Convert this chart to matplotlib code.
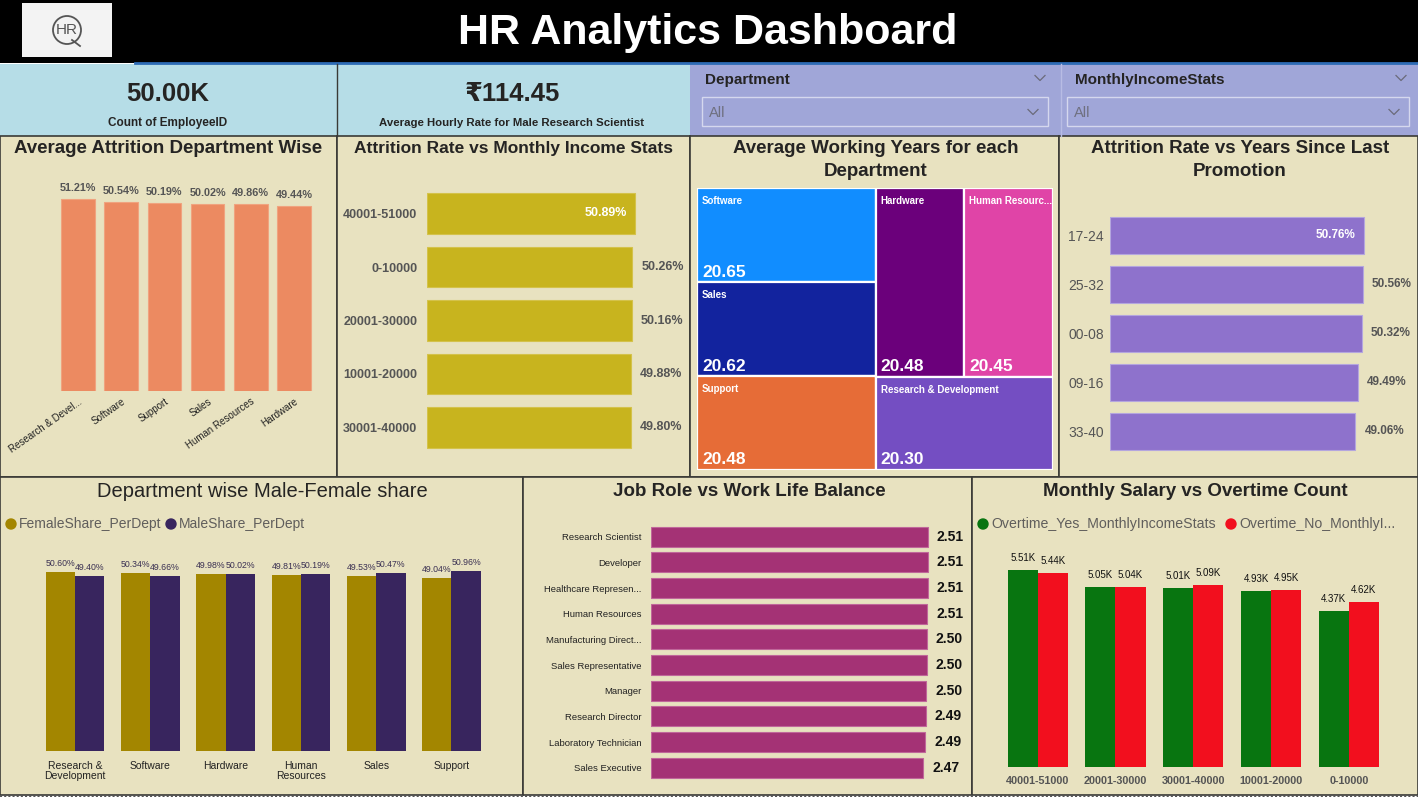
import matplotlib
matplotlib.use("Agg")
from matplotlib import pyplot as plt
from matplotlib.patches import Rectangle, Circle

# Arial-metric face; sizes are tuned to the widths of the Power BI text
FONT = ['Liberation Sans', 'DejaVu Sans']
plt.rcParams['font.family'] = FONT

# ---------------- data ----------------
kpi_count = "50.00K"
kpi_count_label = "Count of EmployeeID"
kpi_rate = "₹114.45"
kpi_rate_label = "Average Hourly Rate for Male Research Scientist"

dept_names = ["Research & Devel...", "Software", "Support", "Sales", "Human Resources", "Hardware"]
dept_attrition = [51.21, 50.54, 50.19, 50.02, 49.86, 49.44]

income_bins = ["40001-51000", "0-10000", "20001-30000", "10001-20000", "30001-40000"]
income_attrition = [50.89, 50.26, 50.16, 49.88, 49.80]

tm_names = ["Software", "Sales", "Support", "Hardware", "Human Resourc...", "Research & Development"]
tm_years = [20.65, 20.62, 20.48, 20.48, 20.45, 20.30]
tm_colors = ["#118dff", "#12239e", "#e66c37", "#6b007b", "#e044a7", "#744ec2"]

promo_bins = ["17-24", "25-32", "00-08", "09-16", "33-40"]
promo_attrition = [50.76, 50.56, 50.32, 49.49, 49.06]

share_depts = ["Research &\nDevelopment", "Software", "Hardware", "Human\nResources", "Sales", "Support"]
female_share = [50.60, 50.34, 49.98, 49.81, 49.53, 49.04]
male_share = [49.40, 49.66, 50.02, 50.19, 50.47, 50.96]
share_names = ["FemaleShare_PerDept", "MaleShare_PerDept"]

job_roles = ["Research Scientist", "Developer", "Healthcare Represen...", "Human Resources",
             "Manufacturing Direct...", "Sales Representative", "Manager", "Research Director",
             "Laboratory Technician", "Sales Executive"]
work_life = [2.513, 2.512, 2.510, 2.508, 2.504, 2.500, 2.498, 2.494, 2.490, 2.472]

salary_bins = ["40001-51000", "20001-30000", "30001-40000", "10001-20000", "0-10000"]
ot_yes = [5.51, 5.05, 5.01, 4.93, 4.37]
ot_no = [5.44, 5.04, 5.09, 4.95, 4.62]
ot_names = ["Overtime_Yes_MonthlyIncomeStats", "Overtime_No_MonthlyI..."]

# ---------------- styling ----------------
W, H = 1418, 797
PANEL = "#e8e2c0"
BORDER = "#3a3a36"
TITLE = "#252423"
GREY = "#555555"

fig = plt.figure(figsize=(W / 100, H / 100), dpi=100)

# background canvas in pixel coordinates
bg = fig.add_axes([0, 0, 1, 1])
bg.set_xlim(0, W)
bg.set_ylim(H, 0)
bg.axis("off")
bg.set_zorder(0)


def px_axes(x0, y0, x1, y1):
    ax = fig.add_axes([x0 / W, 1 - y1 / H, (x1 - x0) / W, (y1 - y0) / H])
    ax.set_facecolor("none")
    for s in ax.spines.values():
        s.set_visible(False)
    ax.set_zorder(2)
    return ax


def box(x0, y0, x1, y1, fc, ec="none", lw=1.0):
    bg.add_patch(Rectangle((x0, y0), x1 - x0, y1 - y0, facecolor=fc, edgecolor=ec, lw=lw))


def chevron(cx, cy, s=5):
    bg.plot([cx - s, cx, cx + s], [cy - s / 2, cy + s / 2, cy - s / 2], color="#6a6a7a", lw=0.9)


# header
box(0, 0, W, 63, "black")
bg.plot([135, W], [63, 63], color="#2d6bb5", lw=2)
box(22, 3, 112, 57, "#f3f3f3")
bg.add_patch(Circle((67, 30), 14, facecolor="none", edgecolor="#555555", lw=1.3))
bg.plot([72, 80], [40, 46], color="#555555", lw=1.3)
bg.text(67, 30, "HR", ha="center", va="center", fontsize=11, color="#555555")
bg.text(708, 33, "HR Analytics Dashboard", ha="center", va="center", fontsize=31,
        fontweight="bold", color="white")

# KPI cards
box(0, 64, 690, 136, "#b6dde7")
bg.plot([336.5, 336.5], [64, 136], color=BORDER, lw=1)
bg.text(168, 94, kpi_count, ha="center", va="center", fontsize=18.5, fontweight="bold", color=TITLE)
bg.text(168, 123, kpi_count_label, ha="center", va="center", fontsize=8.5, fontweight="bold", color=TITLE)
bg.text(512, 94, kpi_rate, ha="center", va="center", fontsize=18.5, fontweight="bold", color=TITLE)
bg.text(512, 123, kpi_rate_label, ha="center", va="center", fontsize=8.2, fontweight="bold", color=TITLE)

# slicers
box(690, 64, W, 136, "#a0a6d8")
bg.plot([1061, 1061], [64, 136], color="#b8bce4", lw=1)
for x0, x1, tx, name in [(702, 1048, 705, "Department"), (1067, 1409, 1075, "MonthlyIncomeStats")]:
    bg.text(tx, 80, name, ha="left", va="center", fontsize=11, fontweight="bold", color=TITLE)
    chevron(x1 - 8, 78)
    box(x0, 97, x1, 126, "none", ec="#d5d8ee", lw=1)
    bg.text(x0 + 7, 113, "All", ha="left", va="center", fontsize=10.5, color="#6f7080")
    chevron(x1 - 15, 112)

# panels
for x0, y0, x1, y1 in [(0, 136, 337, 477), (337, 136, 690, 477), (690, 136, 1059, 477),
                       (1059, 136, W, 477), (0, 477, 523, 795), (523, 477, 972, 795),
                       (972, 477, W, 795)]:
    box(x0, y0, x1, y1, PANEL, ec=BORDER, lw=1.2)
bg.plot([0, W], [795.5, 795.5], color="#555555", lw=1.5, ls=(0, (1, 1)))

title_kw = dict(ha="center", va="center", fontweight="bold", color=TITLE, linespacing=1.4)
bg.text(168, 148, "Average Attrition Department Wise", fontsize=13.5, **title_kw)
bg.text(514, 148, "Attrition Rate vs Monthly Income Stats", fontsize=12.5, **title_kw)
bg.text(876, 160, "Average Working Years for each\nDepartment", fontsize=13.5, **title_kw)
bg.text(1240, 160, "Attrition Rate vs Years Since Last\nPromotion", fontsize=13.5, **title_kw)
bg.text(262, 491, "Department wise Male-Female share", ha="center", va="center", fontsize=14.5,
        color=TITLE)
bg.text(749, 491, "Job Role vs Work Life Balance", fontsize=13.5, **title_kw)
bg.text(1195, 491, "Monthly Salary vs Overtime Count", fontsize=13.5, **title_kw)

# ---------------- chart 1: average attrition by department ----------------
ax1 = px_axes(52, 185, 320, 391)
x1 = range(len(dept_names))
ax1.bar(x1, dept_attrition, width=0.78, color="#ec8a61", edgecolor="#f0a37f", lw=0.8)
ax1.set_xlim(-0.6, len(dept_names) - 0.4)
ax1.set_ylim(0, 55)
ax1.set_yticks([])
ax1.set_xticks(list(x1))
ax1.set_xticklabels(dept_names, rotation=35, ha="right", va="top", rotation_mode="anchor",
                    fontsize=7, color="#222222")
ax1.tick_params(axis="x", length=0, pad=4)
for i, v in enumerate(dept_attrition):
    ax1.annotate(f"{v:.2f}%", (i, v), xytext=(0, 6), textcoords="offset pixels",
                 ha="center", va="bottom", fontsize=7.8, fontweight="bold", color=GREY)

# ---------------- chart 2: attrition vs income ----------------
ax2 = px_axes(427, 186.75, 690, 454.25)
y2 = range(len(income_bins))
ax2.barh(y2, income_attrition, height=0.766, color="#c8b41e", edgecolor="#d4c24a", lw=0.8)
ax2.set_ylim(len(income_bins) - 0.5, -0.5)
ax2.set_xlim(0, max(income_attrition) * 263 / 208)
ax2.set_xticks([])
ax2.set_yticks(list(y2))
ax2.set_yticklabels(income_bins, fontsize=9, fontweight="bold", color=GREY)
ax2.tick_params(axis="y", length=0, pad=7)
for i, v in enumerate(income_attrition):
    if v == max(income_attrition):
        ax2.annotate(f"{v:.2f}%", (v, i), xytext=(-8, 0), textcoords="offset pixels",
                     ha="right", va="center", fontsize=9, fontweight="bold", color="white")
    else:
        ax2.annotate(f"{v:.2f}%", (v, i), xytext=(9, 0), textcoords="offset pixels",
                     ha="left", va="center", fontsize=9, fontweight="bold", color=GREY)

# ---------------- chart 3: treemap of working years ----------------
ax3 = px_axes(697, 188, 1053, 470)
ax3.set_xlim(0, 1)
ax3.set_ylim(1, 0)
ax3.set_xticks([])
ax3.set_yticks([])
total = sum(tm_years)
left = tm_years[:3]
right = tm_years[3:]
left_w = sum(left) / total
rects = []
yy = 0
for v in left:
    h = v / sum(left)
    rects.append((0, yy, left_w, h))
    yy += h
top_h = (right[0] + right[1]) / sum(right)
hw = right[0] / (right[0] + right[1])
rects.append((left_w, 0, (1 - left_w) * hw, top_h))
rects.append((left_w + (1 - left_w) * hw, 0, (1 - left_w) * (1 - hw), top_h))
rects.append((left_w, top_h, 1 - left_w, 1 - top_h))
px_x, px_y = 1 / 356, 1 / 282
for (rx, ry, rw, rh), name, v, c in zip(rects, tm_names, tm_years, tm_colors):
    ax3.add_patch(Rectangle((rx, ry), rw, rh, facecolor=c, edgecolor="white", lw=1.6))
    ax3.text(rx + 5 * px_x, ry + 13 * px_y, name, ha="left", va="center", fontsize=7,
             fontweight="bold", color="white")
    ax3.text(rx + 5 * px_x, ry + rh - 10 * px_y, f"{v:.2f}", ha="left", va="center",
             fontsize=12.5, fontweight="bold", color="white")

# ---------------- chart 4: attrition vs years since promotion ----------------
ax4 = px_axes(1110, 211, W, 455.5)
y4 = range(len(promo_bins))
ax4.barh(y4, promo_attrition, height=0.757, color="#8e72cc", edgecolor="#b4a6de", lw=0.8)
ax4.set_ylim(len(promo_bins) - 0.5, -0.5)
ax4.set_xlim(0, max(promo_attrition) * (W - 1110) / 254)
ax4.set_xticks([])
ax4.set_yticks(list(y4))
ax4.set_yticklabels(promo_bins, fontsize=10, color=GREY, ha="left")
ax4.tick_params(axis="y", length=0, pad=30)
for i, v in enumerate(promo_attrition):
    if v == max(promo_attrition):
        ax4.annotate(f"{v:.2f}%", (v, i), xytext=(-9, 0), textcoords="offset pixels",
                     ha="right", va="center", fontsize=8.5, fontweight="bold", color="white")
    else:
        ax4.annotate(f"{v:.2f}%", (v, i), xytext=(9, 0), textcoords="offset pixels",
                     ha="left", va="center", fontsize=8.5, fontweight="bold", color=GREY)

# ---------------- chart 5: male / female share ----------------
FEMALE, MALE = "#a38600", "#38255e"
ax5 = px_axes(37.35, 539, 489.15, 751)
x5 = list(range(len(share_depts)))
bw = 0.39
ax5.bar([i - bw / 2 for i in x5], female_share, width=bw, color=FEMALE)
ax5.bar([i + bw / 2 for i in x5], male_share, width=bw, color=MALE)
ax5.set_xlim(-0.5, len(share_depts) - 0.5)
ax5.set_ylim(0, 60)
ax5.set_yticks([])
ax5.set_xticks(x5)
ax5.set_xticklabels(share_depts, fontsize=7.5, color="#222222", linespacing=1.0)
ax5.tick_params(axis="x", length=0, pad=7)
for i in x5:
    for off, v in [(-bw / 2, female_share[i]), (bw / 2, male_share[i])]:
        ax5.annotate(f"{v:.2f}%", (i + off, v), xytext=(0, 4), textcoords="offset pixels",
                     ha="center", va="bottom", fontsize=6.3, color="#3a3052")
for cx, c, name in [(11, FEMALE, share_names[0]), (171, MALE, share_names[1])]:
    bg.add_patch(Circle((cx, 524), 5, color=c))
    bg.text(cx + 8, 524, name, ha="left", va="center", fontsize=10, color="#605e5c")

# ---------------- chart 6: job role vs work life balance ----------------
ax6 = px_axes(651, 523.9, 972, 780.5)
y6 = range(len(job_roles))
ax6.barh(y6, work_life, height=0.78, color="#a43275", edgecolor="#c0679a", lw=0.8)
ax6.set_ylim(len(job_roles) - 0.5, -0.5)
ax6.set_xlim(0, 321 / 110.2)
ax6.set_xticks([])
ax6.set_yticks(list(y6))
ax6.set_yticklabels(job_roles, fontsize=6.8, color="#222222")
ax6.tick_params(axis="y", length=0, pad=7)
for i, v in enumerate(work_life):
    ax6.annotate(f"{v:.2f}", (v, i), xytext=(9, 0), textcoords="offset pixels",
                 ha="left", va="center", fontsize=10, fontweight="bold", color="#111111")

# ---------------- chart 7: salary vs overtime ----------------
GREEN, RED = "#087510", "#f20f1e"
ax7 = px_axes(998.8, 534.6, 1387.8, 767.3)
x7 = list(range(len(salary_bins)))
bw7 = 0.386
ax7.bar([i - bw7 / 2 for i in x7], ot_yes, width=bw7, color=GREEN)
ax7.bar([i + bw7 / 2 for i in x7], ot_no, width=bw7, color=RED)
ax7.set_xlim(-0.5, len(salary_bins) - 0.5)
ax7.set_ylim(0, 6.5)
ax7.set_yticks([])
ax7.set_xticks(x7)
ax7.set_xticklabels(salary_bins, fontsize=7.8, fontweight="bold", color=GREY)
ax7.tick_params(axis="x", length=0, pad=6)
for i in x7:
    for off, v in [(-bw7 / 2, ot_yes[i]), (bw7 / 2, ot_no[i])]:
        ax7.annotate(f"{v:.2f}K", (i + off, v), xytext=(0, 7), textcoords="offset pixels",
                     ha="center", va="bottom", fontsize=7, color="#111111")
for cx, c, name in [(983, GREEN, ot_names[0]), (1231, RED, ot_names[1])]:
    bg.add_patch(Circle((cx, 524), 5, color=c))
    bg.text(cx + 8, 524, name, ha="left", va="center", fontsize=10.2, color="#605e5c")

fig.savefig("out.png", dpi=100)
